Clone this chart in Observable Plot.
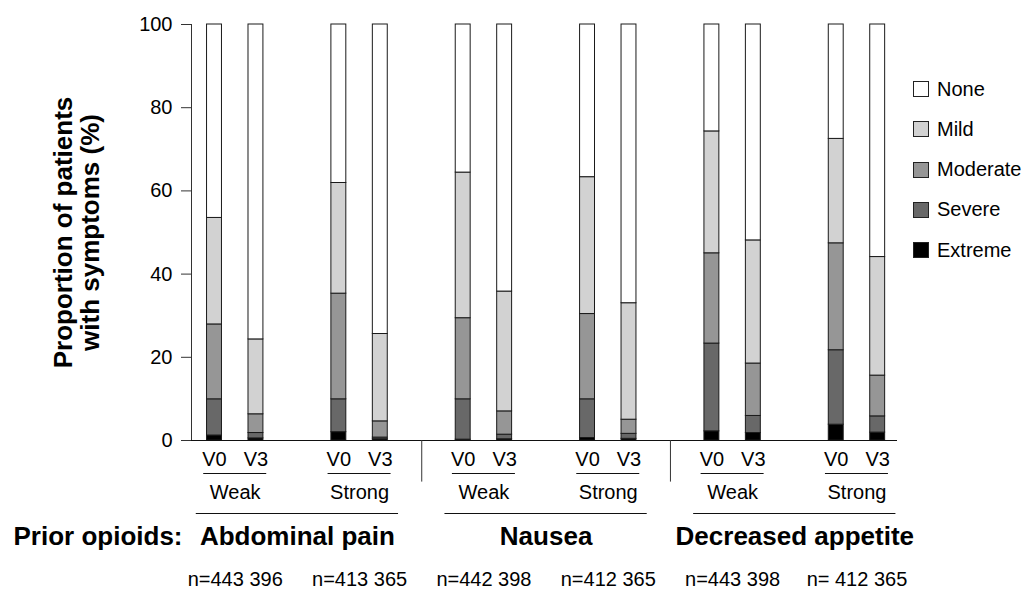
<!DOCTYPE html>
<html><head><meta charset="utf-8">
<script src="https://cdn.jsdelivr.net/npm/d3@7"></script>
<script src="https://cdn.jsdelivr.net/npm/@observablehq/plot@0.6"></script>
<style>
body{margin:0;background:#fff;font-family:"Liberation Sans",Arial,sans-serif;}
#wrap{position:relative;width:1026px;height:591px;}
#legend{position:absolute;left:913px;top:69px;}
.item{display:flex;align-items:center;height:40.25px;font-size:20px;color:#000;}
.sw{width:14px;height:14px;border:1px solid #222;margin-right:8px;box-sizing:content-box;}
</style></head>
<body><div id="wrap"><div id="chart"></div><div id="legend"></div></div>
<script>
const symptoms = ["Abdominal pain", "Nausea", "Decreased appetite"];
const opioids = ["Weak", "Strong"];
const visits = ["V0", "V3"];
const severities = ["Extreme", "Severe", "Moderate", "Mild", "None"];
const legendOrder = ["None", "Mild", "Moderate", "Severe", "Extreme"];
const colors = ["#000000", "#686868", "#969696", "#d2d2d2", "#ffffff"];
// bar order: symptom > opioid > visit
const extreme  = [1.2, 0.5, 2.0, 0.3,  0.2, 0.3, 0.6, 0.4,  2.2, 1.8, 3.8, 1.9];
const severe   = [8.7, 1.3, 7.9, 0.4,  9.7, 1.1, 9.3, 1.2,  21.1, 4.1, 17.9, 3.9];
const moderate = [18.0, 4.5, 25.4, 3.9,  19.5, 5.6, 20.5, 3.4,  21.7, 12.6, 25.7, 9.8];
const mild     = [25.6, 18.0, 26.6, 21.0,  35.0, 28.8, 32.9, 28.0,  29.3, 29.6, 25.1, 28.5];
const none     = [46.5, 75.7, 38.1, 74.4,  35.6, 64.2, 36.7, 67.0,  25.7, 51.9, 27.5, 55.9];
const nLabels = ["n=443 396", "n=413 365", "n=442 398", "n=412 365", "n=443 398", "n= 412 365"];
const yTicks = [0, 20, 40, 60, 80, 100];
const yTitle = "Proportion of patients\nwith symptoms (%)";
const rowLabel = "Prior opioids:";

const series = [extreme, severe, moderate, mild, none];
const bars = [];
symptoms.forEach((s, si) => opioids.forEach((o, oi) => visits.forEach((v, vi) => {
  bars.push({symptom: s, opioid: o, visit: v, pos: si * 6 + oi * 3 + vi});
})));
const rows = [];
bars.forEach((b, i) => severities.forEach((sev, k) => rows.push({...b, severity: sev, value: series[k][i]})));
const pairs = [];
symptoms.forEach((s, si) => opioids.forEach((o, oi) => pairs.push({symptom: s, opioid: o, center: si * 6 + oi * 3 + 0.5})));
pairs.forEach((p, i) => p.n = nLabels[i]);
const groups = symptoms.map((s, si) => ({symptom: s, center: si * 6 + 2}));
const separators = [5, 11];
const hw = 0.18;

const chart = Plot.plot({
  width: 1026, height: 591,
  marginLeft: 191, marginRight: 129, marginTop: 24, marginBottom: 151,
  style: {fontFamily: "Liberation Sans, Arial, sans-serif", fontSize: "20px", color: "#000", background: "#fff"},
  x: {type: "linear", domain: [-0.555, 16.478], axis: null},
  y: {domain: [0, 100]},
  color: {domain: severities, range: colors},
  marks: [
    Plot.rectY(rows, Plot.stackY({x1: d => d.pos - hw, x2: d => d.pos + hw, y: "value", fill: "severity", stroke: "#1a1a1a", strokeWidth: 1})),
    Plot.axisY({ticks: yTicks, tickSize: 10, tickPadding: 9, fontSize: 20, label: null, stroke: "#333"}),
    Plot.ruleX([-0.555], {y1: 0, y2: 100, stroke: "#333"}),
    Plot.ruleY([0], {stroke: "#111"}),
    Plot.text(bars, {x: "pos", y: 0, text: "visit", dy: 11, lineAnchor: "top", fontSize: 20}),
    Plot.ruleY(pairs, {x1: d => d.center - 0.76, x2: d => d.center + 0.76, y: 0, dy: 33, stroke: "#111"}),
    Plot.text(pairs, {x: "center", y: 0, text: "opioid", dy: 44, lineAnchor: "top", fontSize: 20}),
    Plot.ruleY(groups, {x1: d => d.center - 2.44, x2: d => d.center + 2.44, y: 0, dy: 73, stroke: "#111"}),
    Plot.text(groups, {x: "center", y: 0, text: "symptom", dy: 86, lineAnchor: "top", fontSize: 26, fontWeight: "bold"}),
    Plot.text([rowLabel], {frameAnchor: "left", y: 0, dx: -9, dy: 86, textAnchor: "end", lineAnchor: "top", fontSize: 26, fontWeight: "bold"}),
    Plot.text(pairs, {x: "center", y: 0, text: "n", dy: 131, lineAnchor: "top", fontSize: 20}),
    Plot.ruleX(separators, {y1: 0, y2: -10, stroke: "#333"}),
    Plot.text([yTitle], {frameAnchor: "left", dx: -115, rotate: -90, textAnchor: "middle", lineAnchor: "middle", fontSize: 26, fontWeight: "bold", lineHeight: 1.06})
  ]
});
document.getElementById("chart").appendChild(chart);

const lg = document.getElementById("legend");
legendOrder.forEach(name => {
  const it = document.createElement("div"); it.className = "item";
  const sw = document.createElement("div"); sw.className = "sw";
  sw.style.background = colors[severities.indexOf(name)];
  const tx = document.createElement("span"); tx.textContent = name;
  it.appendChild(sw); it.appendChild(tx); lg.appendChild(it);
});
</script></body></html>
